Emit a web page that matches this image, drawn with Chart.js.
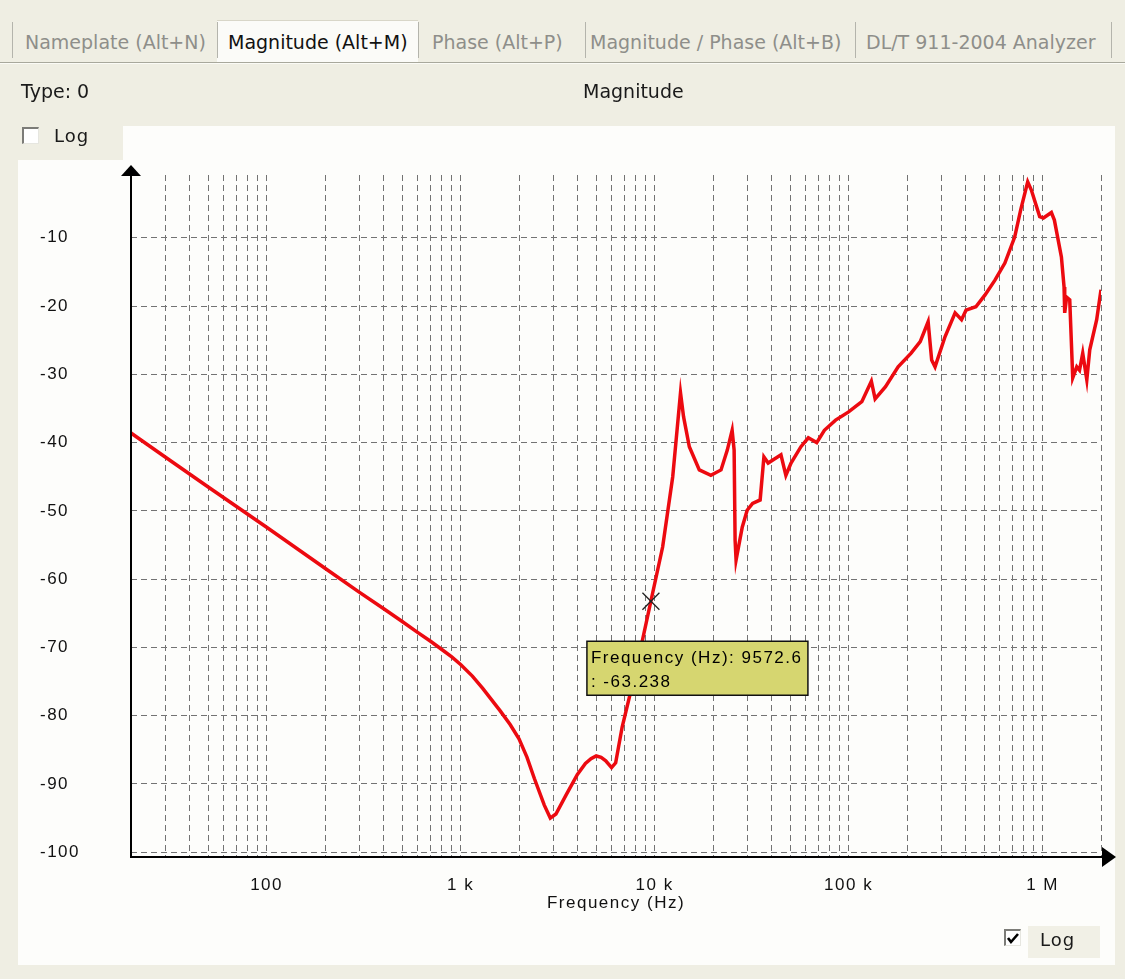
<!DOCTYPE html>
<html>
<head>
<meta charset="utf-8">
<script src="https://cdn.jsdelivr.net/npm/chart.js@4.4.0/dist/chart.umd.min.js"></script>
<style>
  body { margin: 0; width: 1125px; height: 979px; overflow: hidden; position: relative;
         background: #efeee3; font-family: "DejaVu Sans", Verdana, sans-serif; }
  .tab { position: absolute; top: 23px; height: 38px; line-height: 38px; font-size: 19px;
         color: #8e8e8a; white-space: nowrap; }
  .sep { position: absolute; top: 22px; width: 1px; height: 36px; background: #b4b4ac; }
  .lbl { position: absolute; font-size: 19px; color: #1a1a1a; white-space: nowrap; z-index: 3; }
  .cb  { position: absolute; width: 14px; height: 14px; background: #fff; z-index: 3;
         border-top: 2px solid #7c7c78; border-left: 2px solid #7c7c78;
         border-right: 1px solid #e6e6e0; border-bottom: 1px solid #e6e6e0; }
  #chart { position: absolute; left: 0; top: 0; z-index: 2; }
</style>
</head>
<body>
  <!-- tab strip -->
  <div style="position:absolute;left:217px;top:20px;width:201px;height:43px;background:#fbfbf8;border-top:1px solid #d8d6c8"></div>
  <div class="sep" style="left:12px"></div>
  <div class="sep" style="left:217px"></div>
  <div class="sep" style="left:418px"></div>
  <div class="sep" style="left:585px"></div>
  <div class="sep" style="left:855px"></div>
  <div class="sep" style="left:1111px"></div>
  <div class="tab" style="left:25px">Nameplate (Alt+N)</div>
  <div class="tab" style="left:228px;color:#111">Magnitude (Alt+M)</div>
  <div class="tab" style="left:432px">Phase (Alt+P)</div>
  <div class="tab" style="left:590px">Magnitude / Phase (Alt+B)</div>
  <div class="tab" style="left:866px">DL/T 911-2004 Analyzer</div>
  <div style="position:absolute;left:0;top:62px;width:1125px;height:1px;background:#a8a89c"></div>
  <div style="position:absolute;left:0;top:63px;width:1125px;height:1px;background:#fbfbf6"></div>

  <div class="lbl" style="left:21px;top:80px">Type: 0</div>
  <div class="lbl" style="left:583px;top:80px">Magnitude</div>

  <!-- white plot panel -->
  <div style="position:absolute;left:123px;top:126px;width:992px;height:40px;background:#fdfdfb"></div>
  <div style="position:absolute;left:18px;top:160px;width:1097px;height:805px;background:#fdfdfb"></div>

  <div class="cb" style="left:22px;top:127px"></div>
  <div class="lbl" style="left:54px;top:125px;font-size:18px;letter-spacing:1px">Log</div>

  <div style="position:absolute;left:1028px;top:926px;width:72px;height:32px;background:#f1f0e6;z-index:1"></div>
  <div class="cb" style="left:1004px;top:929px">
    <svg width="14" height="14" style="position:absolute;left:0;top:0">
      <polyline points="2,7 5,11 12,3" fill="none" stroke="#000" stroke-width="2.6"/>
    </svg>
  </div>
  <div class="lbl" style="left:1040px;top:929px;font-size:18px;letter-spacing:1px">Log</div>

  <canvas id="chart" width="1125" height="979"></canvas>

<script>
// magnitude sweep (Hz, dB)
const freqHz = [20, 30, 50, 100, 200, 300, 400, 500, 600, 700, 800, 900, 1000, 1150, 1300, 1600,
  1800, 2000, 2200, 2400, 2700, 2900, 3100, 3500, 4000, 4400, 4700, 5000, 5300, 5600, 6000, 6300,
  6800, 7500, 8500, 9572.6, 11000, 12400, 13100, 13600,
  14100, 15100, 17000, 19500, 22000, 23700, 25100, 25700, 26000, 26300, 28300, 30000, 32000,
  35000, 36600, 38500, 44800, 47500, 50500, 56800, 62000, 68500, 75000, 85700, 100000, 117000,
  131000, 137000, 155000, 180000, 210000, 234000, 257000, 268000, 279000, 314000, 354000,
  382000, 403000, 453000, 504000, 568000, 639000, 718000, 771000, 838000, 875000, 966000,
  1010000, 1110000, 1150000, 1250000, 1290000, 1300000, 1330000, 1380000, 1410000, 1430000,
  1500000, 1550000, 1610000, 1690000, 1750000, 1900000, 2000000];
const magDb = [-38.6, -42.1, -46.5, -52.4, -58.4, -61.9, -64.3, -66.2, -67.8, -69.1, -70.3, -71.4,
  -72.5, -74.2, -76.0, -79.3,
  -81.3, -83.4, -86.1, -89.2, -93.1, -95.0, -94.4, -91.6, -88.6, -87.0, -86.3, -85.9, -86.1, -86.6, -87.6, -86.9,
  -81.7, -76.7, -70.0, -63.2, -55.3, -45.0, -37.7, -32.7,
  -36.2, -40.6, -44.0, -44.8, -44.0, -41.1, -38.2, -41.1, -54.3, -57.2, -52.4, -49.9, -48.9,
  -48.4, -42.1, -43.0, -41.8, -44.8, -43.0, -40.6, -39.3, -40.0, -38.2, -36.7, -35.5, -34.0,
  -31.0, -33.6, -31.8, -28.9, -26.9, -25.2, -22.3, -27.9, -28.9, -24.5, -21.0,
  -22.0, -20.6, -20.1, -18.4, -16.2, -13.7, -9.9, -5.9, -1.8, -3.0, -6.9,
  -7.1, -6.3, -7.4, -12.8, -17.2, -21.0, -18.7, -19.1, -26.0, -30.5,
  -28.9, -29.4, -26.9, -30.8, -26.4, -22.0, -17.6];

// cursor readout
const cursorHz = 9572.6;
const cursorDb = -63.238;

// axis ticks
const labelHz = [100, 1000, 10000, 100000, 1000000];
const labelText = ["100", "1 k", "10 k", "100 k", "1 M"];
const yTicks = [-100, -90, -80, -70, -60, -50, -40, -30, -20, -10];

const gridHz = [];
for (let e = 1; e <= 6; e++) {
  for (let m = 1; m <= 9; m++) {
    const v = m * Math.pow(10, e);
    if (v >= 20 && v <= 2000000) gridHz.push(v);
  }
}

const FONT = '"Liberation Sans", Arial, sans-serif';
Chart.defaults.font.family = FONT;
Chart.defaults.font.size = 17;
Chart.defaults.color = "#111";

const spacing = {
  id: "spacing",
  beforeUpdate(c) { c.ctx.letterSpacing = "1.5px"; },
  beforeDraw(c) { c.ctx.letterSpacing = "1.5px"; }
};

const axisArrows = {
  id: "axisArrows",
  afterDraw(chart) {
    const { ctx, chartArea: { left, right, top, bottom } } = chart;
    ctx.save();
    ctx.strokeStyle = "#000";
    ctx.fillStyle = "#000";
    ctx.lineWidth = 2;
    ctx.beginPath();
    ctx.moveTo(left, bottom); ctx.lineTo(left, top - 2);
    ctx.moveTo(left - 1, bottom); ctx.lineTo(right + 4, bottom);
    ctx.stroke();
    ctx.beginPath();
    ctx.moveTo(left, top - 10); ctx.lineTo(left - 10, top + 1); ctx.lineTo(left + 10, top + 1);
    ctx.closePath(); ctx.fill();
    ctx.beginPath();
    ctx.moveTo(right + 15, bottom); ctx.lineTo(right + 1, bottom - 10); ctx.lineTo(right + 1, bottom + 10);
    ctx.closePath(); ctx.fill();
    ctx.restore();
  }
};

const cursorTip = {
  id: "cursorTip",
  afterDraw(chart) {
    const { ctx, scales: { x, y } } = chart;
    const px = x.getPixelForValue(cursorHz);
    const py = y.getPixelForValue(cursorDb);
    const bx = px - 64, by = py + 40, bw = 221, bh = 54;
    ctx.save();
    ctx.fillStyle = "#d6d670";
    ctx.fillRect(bx, by, bw, bh);
    ctx.strokeStyle = "#111";
    ctx.lineWidth = 1.5;
    ctx.strokeRect(bx, by, bw, bh);
    ctx.fillStyle = "#000";
    ctx.font = "17px " + FONT;
    ctx.letterSpacing = "1.5px";
    ctx.textBaseline = "middle";
    ctx.fillText("Frequency (Hz): " + cursorHz, bx + 4, by + 17);
    ctx.fillText(": " + cursorDb, bx + 4, by + 41);
    ctx.restore();
  }
};

new Chart(document.getElementById("chart"), {
  type: "line",
  data: {
    datasets: [
      {
        data: [{ x: cursorHz, y: cursorDb }],
        showLine: false,
        pointStyle: "crossRot",
        pointRadius: 12,
        borderColor: "#222",
        borderWidth: 1.3,
        order: 0
      },
      {
        data: freqHz.map((f, i) => ({ x: f, y: magDb[i] })),
        borderColor: "#ec0a10",
        borderWidth: 3.5,
        pointRadius: 0,
        tension: 0,
        fill: false,
        order: 1
      }
    ]
  },
  options: {
    responsive: false,
    animation: false,
    devicePixelRatio: 1,
    layout: { padding: { left: 40, right: 24, top: 175, bottom: 62 } },
    plugins: { legend: { display: false }, tooltip: { enabled: false } },
    scales: {
      x: {
        type: "logarithmic",
        min: 20,
        max: 2000000,
        afterBuildTicks: s => { s.ticks = gridHz.map(v => ({ value: v })); },
        afterFit: s => { s.height = 60; },
        grid: { color: "#737373", lineWidth: 1, drawTicks: false },
        border: { display: false, dash: [6, 4] },
        ticks: {
          autoSkip: false,
          maxRotation: 0,
          padding: 18,
          color: "#111",
          callback: v => {
            const i = labelHz.indexOf(v);
            return i >= 0 ? labelText[i] : "";
          }
        },
        title: { display: true, text: "Frequency (Hz)", color: "#111", padding: { top: 0, bottom: 3 } }
      },
      y: {
        min: -100.7,
        max: -0.8,
        afterBuildTicks: s => { s.ticks = yTicks.map(v => ({ value: v })); },
        afterFit: s => { s.width = 91; },
        grid: { color: "#737373", lineWidth: 1, drawTicks: false },
        border: { display: false, dash: [6, 4] },
        ticks: { crossAlign: "far", padding: 12, color: "#111", callback: v => String(v) }
      }
    }
  },
  plugins: [spacing, axisArrows, cursorTip]
});
</script>
</body>
</html>
